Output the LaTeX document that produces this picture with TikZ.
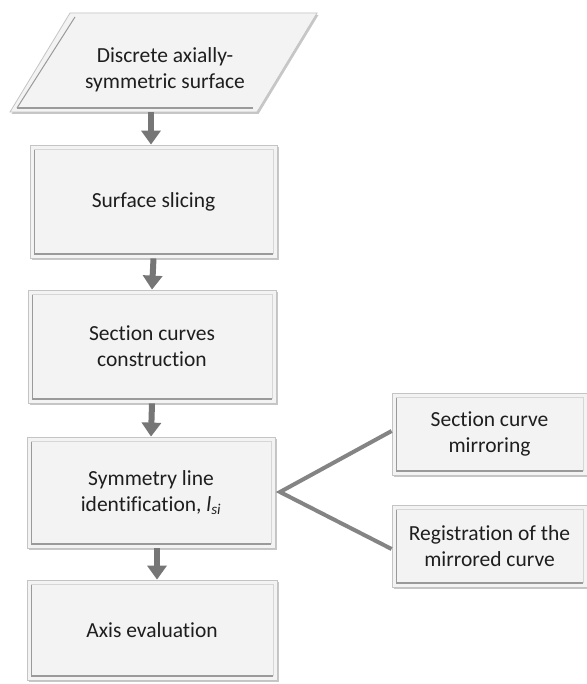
\documentclass[tikz,border=0pt]{standalone}
\usepackage{fontspec}
\setmainfont[RawFeature={-liga,-clig,-dlig,-calt}]{Carlito}
\usetikzlibrary{arrows.meta,shadows}
\definecolor{boxfill}{HTML}{F3F3F3}
\definecolor{boxedge}{HTML}{C4C4C4}
\definecolor{bevel}{HTML}{9A9A9A}
\definecolor{arrowgray}{HTML}{767676}
\definecolor{txt}{HTML}{1E1E1E}
\tikzset{
  stepbox/.style={draw=boxedge, fill=boxfill, line width=0.8pt, align=center,
    text=txt, font=\fontsize{21.5}{26}\selectfont,
    drop shadow={shadow xshift=1.5pt, shadow yshift=-2pt, opacity=0.22, fill=black},
    path picture={
      \draw[bevel, line width=1pt]
        ([xshift=4pt,yshift=4pt]path picture bounding box.south west) --
        ([xshift=4pt,yshift=-4pt]path picture bounding box.north west);
      \draw[bevel, line width=2pt]
        ([xshift=4pt,yshift=4pt]path picture bounding box.south west) --
        ([xshift=-4pt,yshift=4pt]path picture bounding box.south east);
      \draw[boxedge!70, line width=0.8pt]
        ([xshift=-4pt,yshift=4pt]path picture bounding box.south east) --
        ([xshift=-4pt,yshift=-4pt]path picture bounding box.north east) --
        ([xshift=4pt,yshift=-4pt]path picture bounding box.north west);
    }},
  flow/.style={draw=arrowgray, line width=6pt,
    -{Triangle[width=19pt,length=14pt]}, shorten >=0pt},
  branch/.style={draw=arrowgray!90, line width=4pt, line join=miter},
}
\begin{document}
\begin{tikzpicture}[x=1pt,y=-1pt]
\useasboundingbox[fill=white] (0,0) rectangle (586,684);
% parallelogram input
\draw[draw=boxedge, fill=boxfill, line width=0.8pt,
  drop shadow={shadow xshift=1.5pt, shadow yshift=-2pt, opacity=0.22, fill=black}]
  (70,13) -- (317,13) -- (257,112) -- (10,112) -- cycle;
\draw[bevel, line width=2pt] (17,108) -- (253,108);
\draw[bevel, line width=1pt] (17,108) -- (75,17);
\node[align=center, text=txt, font=\fontsize{21.5}{26}\selectfont] (src) at (165,70)
  {Discrete axially-\\symmetric surface};
\coordinate (srcb) at (151,112);

\node[stepbox, minimum width=247pt, minimum height=113pt] (slice) at (153.5,201.5) {Surface slicing};
\node[stepbox, minimum width=248pt, minimum height=113pt] (curves) at (152,346.5) {Section curves\\construct\kern0pt ion};
\node[stepbox, minimum width=248pt, minimum height=111pt] (sym) at (151,492.5) {Symmetry line\\identificat\kern0pt ion, \textit{l}\textsubscript{\textit{si}}};
\node[stepbox, minimum width=250pt, minimum height=100pt] (axis) at (152,630) {Axis evaluat\kern0pt ion};

\node[stepbox, minimum width=195pt, minimum height=82pt] (mirror) at (489.5,434) {Sect\kern0pt ion curve\\mirroring};
\node[stepbox, minimum width=195pt, minimum height=82pt] (reg) at (489.5,546) {Registrat\kern0pt ion of the\\mirrored curve};

\draw[flow] (srcb) -- (slice.north -| srcb);
\draw[flow] (slice.south) -- (curves.north);
\draw[flow] (curves.south) -- (sym.north);
\draw[flow] ([xshift=6pt]sym.south) -- ([xshift=6pt]sym.south |- axis.north);

\coordinate (v) at (280,492);
\draw[branch] ([yshift=3pt]mirror.west) -- (v) -- ([yshift=-3pt]reg.west);
\end{tikzpicture}
\end{document}
